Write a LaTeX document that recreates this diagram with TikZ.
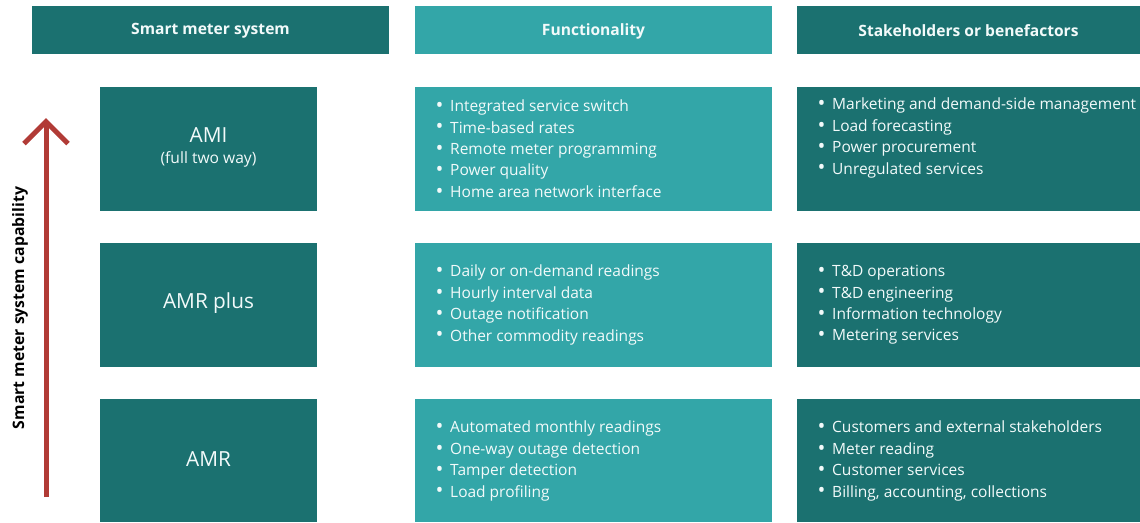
\documentclass[tikz,border=0pt]{standalone}
\usepackage{fontspec}
\setmainfont{Open Sans}
\usetikzlibrary{arrows.meta}
\definecolor{tealdark}{HTML}{1B7170}
\definecolor{teallight}{HTML}{33A6A8}
\definecolor{arrowred}{HTML}{B13B36}
\definecolor{boxtext}{HTML}{F2FAFA}
\newcommand{\bl}[1]{\makebox[14.5pt][l]{\raisebox{-0.1ex}{\scalebox{1.35}{\textbullet}}}#1}
\tikzset{
  x=1pt, y=-1pt,
  header/.style={fill=tealdark, draw=none, minimum height=48pt, inner sep=0pt,
    text=boxtext, font=\fontsize{15.6}{18}\selectfont\bfseries},
  headertext/.style={text=boxtext, inner sep=0pt, font=\fontsize{15.6}{18}\selectfont\bfseries},
  listtext/.style={text=boxtext, align=left, inner sep=0pt, anchor=west,
    font=\fontsize{15.5}{21.4}\selectfont},
  bigtext/.style={text=boxtext, inner sep=0pt, font=\fontsize{20.8}{24}\selectfont},
  smalltext/.style={text=boxtext, inner sep=0pt, font=\fontsize{15.6}{18}\selectfont},
  capability/.style={line width=5pt, draw=arrowred,
    -{Straight Barb[length=22pt, width=44pt, line width=5pt]}},
}
\begin{document}
\begin{tikzpicture}
\useasboundingbox (0,0) rectangle (1140,522);

% column headers
\node[header, minimum width=357pt] (h1) at (210.5,30) {};
\node[header, fill=teallight, minimum width=357pt] (h2) at (593.5,30) {};
\node[header, minimum width=343pt] (h3) at (968.5,30) {};
\node[headertext] (h1t) at (210.5,31) {Smart meter system};
\node[headertext] (h2t) at (593.5,31) {Functionality};
\node[headertext] (h3t) at (968.5,31) {Stakeholders or benefactors};

% system level boxes
\fill[tealdark] (100,87) rectangle (317,211);
\fill[tealdark] (100,243) rectangle (317,367);
\fill[tealdark] (100,399) rectangle (317,522);
% functionality boxes
\fill[teallight] (415,87) rectangle (772,211);
\fill[teallight] (415,243) rectangle (772,367);
\fill[teallight] (415,399) rectangle (772,522);
% stakeholder boxes
\fill[tealdark] (797,87) rectangle (1140,211);
\fill[tealdark] (797,243) rectangle (1140,367);
\fill[tealdark] (797,399) rectangle (1140,522);

% system level names
\node[bigtext] (ami) at (208.5,135) {AMI};
\node[smalltext] (amisub) at (208.5,159) {(full two way)};
\node[bigtext] (amrplus) at (208.5,303) {AMR plus};
\node[bigtext] (amr) at (208.5,459) {AMR};

% functionality lists
\node[listtext] (f1) at (435.5,149) {\bl{Integrated service switch}\\ \bl{Time-based rates}\\ \bl{Remote meter programming}\\ \bl{Power quality}\\ \bl{Home area network interface}};
\node[listtext] (f2) at (435.5,305) {\bl{Daily or on-demand readings}\\ \bl{Hourly interval data}\\ \bl{Outage notification}\\ \bl{Other commodity readings}};
\node[listtext] (f3) at (435.5,461) {\bl{Automated monthly readings}\\ \bl{One-way outage detection}\\ \bl{Tamper detection}\\ \bl{Load profiling}};

% stakeholder lists
\node[listtext] (s1) at (817.5,138) {\bl{Marketing and demand-side management}\\ \bl{Load forecasting}\\ \bl{Power procurement}\\ \bl{Unregulated services}};
\node[listtext] (s2) at (817.5,305) {\bl{T\&D operations}\\ \bl{T\&D engineering}\\ \bl{Information technology}\\ \bl{Metering services}};
\node[listtext] (s3) at (817.5,461) {\bl{Customers and external stakeholders}\\ \bl{Meter reading}\\ \bl{Customer services}\\ \bl{Billing, accounting, collections}};

% capability axis
\coordinate (capbase) at (46,497);
\coordinate (captip) at (46,118);
\draw[capability] (capbase) -- (captip);
\node[rotate=90, font=\fontsize{15.8}{18}\selectfont\bfseries, inner sep=0pt] (caplabel) at (20,308) {Smart meter system capability};
\end{tikzpicture}
\end{document}
